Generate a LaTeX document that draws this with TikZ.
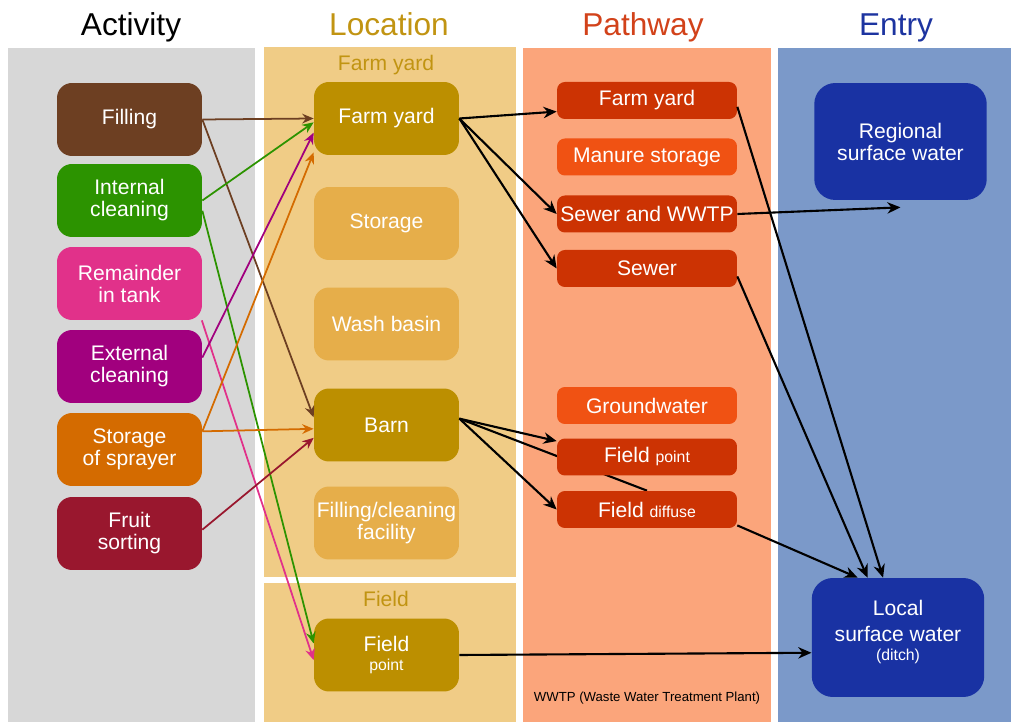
\documentclass[tikz,border=0pt]{standalone}
\usepackage{fontspec}
\setmainfont{Liberation Sans}
\usetikzlibrary{arrows.meta}
\definecolor{actgray}{RGB}{215,215,215}
\definecolor{locsand}{RGB}{240,204,134}
\definecolor{pathsalmon}{RGB}{251,165,123}
\definecolor{entryblue}{RGB}{123,153,201}
\definecolor{locgold}{RGB}{188,143,0}
\definecolor{loclight}{RGB}{230,174,74}
\definecolor{pathred}{RGB}{204,51,3}
\definecolor{pathorange}{RGB}{240,82,19}
\definecolor{waterblue}{RGB}{25,50,163}
\definecolor{fillbrown}{RGB}{109,63,34}
\definecolor{cleangreen}{RGB}{44,147,0}
\definecolor{tankpink}{RGB}{225,49,138}
\definecolor{extpurple}{RGB}{161,0,126}
\definecolor{storeorange}{RGB}{212,107,0}
\definecolor{fruitred}{RGB}{153,23,46}
\definecolor{titlegold}{RGB}{193,148,18}
\definecolor{titlered}{RGB}{210,66,26}
\definecolor{titleblue}{RGB}{29,52,160}
\pgfdeclarelayer{back}
\pgfdeclarelayer{behind}
\pgfsetlayers{back,behind,main}

\begin{document}
\begin{tikzpicture}[x=0.02cm,y=-0.02cm,
    box/.style={rounded corners=8.5pt,minimum width=2.9cm,minimum height=1.46cm,
      inner sep=1pt,align=center,text=white,font=\fontsize{12}{12.5}\selectfont},
    pbox/.style={rounded corners=4.5pt,minimum width=3.6cm,minimum height=0.74cm,
      inner sep=1pt,align=center,text=white,font=\fontsize{12}{12.5}\selectfont},
    wbox/.style={fill=waterblue,rounded corners=12pt,minimum width=3.45cm,minimum height=2.36cm,
      inner sep=1pt,align=center,text=white,font=\fontsize{12}{12.5}\selectfont},
    flow/.style={-{Stealth[length=7.5pt,width=6.5pt]},line width=1.2pt},
    feed/.style={-{Stealth[length=6.5pt,width=5.5pt]},line width=1pt},
    title/.style={anchor=base,font=\fontsize{18}{20}\selectfont},
    head/.style={anchor=base,text=titlegold,font=\fontsize{12}{14}\selectfont}]
  \useasboundingbox (0,0) rectangle (1011,722);
  % columns
  \begin{pgfonlayer}{back}
    \fill[actgray] (8,48) rectangle (255,722);
    \fill[locsand] (264,47) rectangle (516,577);
    \fill[locsand] (264,583) rectangle (516,722);
    \fill[pathsalmon] (523,48) rectangle (771,722);
    \fill[entryblue] (778,48) rectangle (1011,722);
  \end{pgfonlayer}
  \node[title] (tact) at (131,36) {Activity};
  \node[title,text=titlegold] (tloc) at (389,36) {Location};
  \node[title,text=titlered] (tpath) at (643,36) {Pathway};
  \node[title,text=titleblue] (tentry) at (896,36) {Entry};
  \node[head] (hyard) at (386,71) {Farm yard};
  \node[head] (hfield) at (386,606) {Field};

  % activity
  \node[box,fill=fillbrown] (filling) at (129.5,119.5) {Filling};
  \node[box,fill=cleangreen] (internal) at (129.5,200.5) {Internal\\cleaning};
  \node[box,fill=tankpink] (remainder) at (129.5,283.5) {Remainder\\in tank};
  \node[box,fill=extpurple] (external) at (129.5,366.5) {External\\cleaning};
  \node[box,fill=storeorange] (storage) at (129.5,449.5) {Storage\\of sprayer};
  \node[box,fill=fruitred] (fruit) at (129.5,533.5) {Fruit\\sorting};

  % location
  \node[box,fill=locgold] (fyard) at (386.5,118.5) {Farm yard};
  \node[box,fill=loclight] (lstorage) at (386.5,223.5) {Storage};
  \node[box,fill=loclight] (wash) at (386.5,324) {Wash basin};
  \node[box,fill=locgold] (barn) at (386.5,425) {Barn};
  \node[box,fill=loclight] (facility) at (386.5,523) {Filling/cleaning\\facility};
  \node[box,fill=locgold] (lfield) at (386.5,655) {Field\\[-1.5pt]{\fontsize{9}{10}\selectfont point}};

  % pathway
  \node[pbox,fill=pathred] (pfarm) at (647,100.5) {Farm yard};
  \node[pbox,fill=pathorange] (manure) at (647,157) {Manure storage};
  \node[pbox,fill=pathred] (psewwtp) at (647,214) {Sewer and WWTP};
  \node[pbox,fill=pathred] (psewer) at (647,268.5) {Sewer};
  \node[pbox,fill=pathorange] (ground) at (647,405.5) {Groundwater};
  \node[pbox,fill=pathred] (pfieldpt) at (647,457) {Field {\fontsize{9}{10}\selectfont point}};
  \node[pbox,fill=pathred] (pfielddiff) at (647,509.5) {Field {\fontsize{9}{10}\selectfont diffuse}};
  \node[font=\fontsize{7.5}{9}\selectfont] (wwtp) at (647,698) {WWTP (Waste Water Treatment Plant)};

  % entry
  \node[wbox,minimum height=2.34cm] (regional) at (900.5,141.5) {Regional\\surface water};
  \node[wbox,minimum height=2.38cm] (local) at (898,637.5)
    {Local\\[2pt]surface water\\[-1.5pt]{\fontsize{9}{10}\selectfont (ditch)\rule[-8pt]{0pt}{1pt}}};

  % activity -> location
  \draw[feed,fillbrown] (filling.east) -- (fyard.west);
  \draw[feed,fillbrown] (filling.east) -- (barn.174);
  \draw[feed,cleangreen] (internal.east) -- (fyard.183);
  \draw[feed,cleangreen] (internal.-8) -- (lfield.171);
  \draw[feed,tankpink] (remainder.-27) -- (lfield.184);
  \draw[feed,extpurple] (external.7) -- (fyard.191);
  \draw[feed,storeorange] (storage.14) -- (fyard.205);
  \draw[feed,storeorange] (storage.14) -- (barn.183);
  \draw[feed,fruitred] (fruit.3) -- (barn.190);

  % location -> pathway
  \draw[flow] (fyard.east) -- (pfarm.187);
  \draw[flow] (fyard.east) -- (psewwtp.west);
  \draw[flow] (fyard.east) -- (psewer.west);
  \draw[flow] (barn.5) -- (pfieldpt.170);
  \draw[flow] (barn.5) -- (pfielddiff.west);
  \begin{pgfonlayer}{behind}
    \draw[line width=1.2pt] (barn.5) -- (pfielddiff.north);
  \end{pgfonlayer}

  % pathway -> entry
  \coordinate (regin) at ([yshift=-4pt]regional.south);
  \draw[flow] (psewwtp.east) -- (regin);
  \draw[flow] (pfarm.-4) -- (local.104);
  \draw[flow] (psewer.-5) -- (local.117);
  \draw[flow] (pfielddiff.-10) -- (local.124);
  \draw[flow] (lfield.east) -- (local.190);
\end{tikzpicture}
\end{document}
